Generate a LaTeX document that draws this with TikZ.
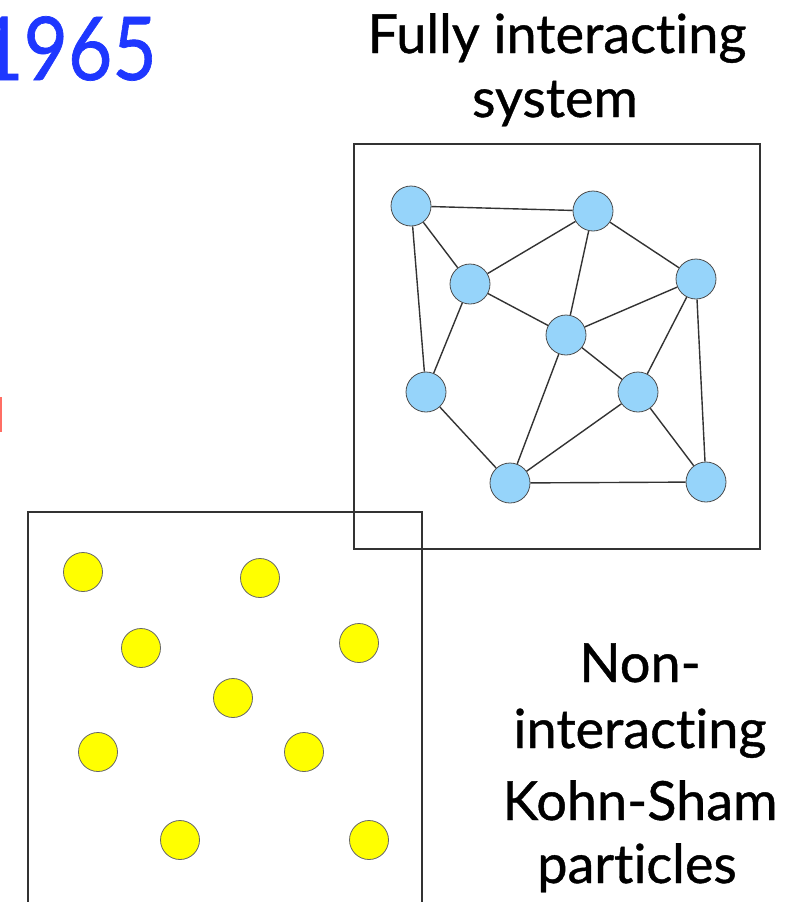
\documentclass[tikz,border=0pt]{standalone}
\usepackage{fontspec}
\setmainfont[FakeBold=0.8,Ligatures=NoCommon]{Lato}
\usetikzlibrary{backgrounds}
\begin{document}
\begin{tikzpicture}[x=1pt,y=-1pt,
  frame/.style={draw=black!80,line width=1.4pt},
  edge/.style={draw=black!80,line width=1.4pt},
  bluedot/.style={circle,draw=black!70,line width=0.8pt,fill={rgb,255:red,150;green,212;blue,250},minimum size=40pt,inner sep=0pt},
  yeldot/.style={circle,draw=black!60,line width=0.8pt,fill={rgb,255:red,255;green,255;blue,0},minimum size=39pt,inner sep=0pt},
  lbl/.style={align=center,inner sep=0pt,font=\fontsize{54}{70}\selectfont}
]
\useasboundingbox (0,0) rectangle (796,902);
% year
\node[anchor=base east,inner sep=0pt,xscale=0.87,text={rgb,255:red,30;green,55;blue,255},font=\fontsize{88}{88}\selectfont] (year) at (157,80) {1965};
% cut-off red mark at left edge
\draw[line width=3pt,color={rgb,255:red,255;green,110;blue,100}] (0.5,397) -- (0.5,432);
% top labels
\node[anchor=base,lbl] (t1) at (557,53) {Fully interacting};
\node[anchor=base,lbl] (t2) at (555,117) {system};
% bottom labels
\node[anchor=base,lbl] (b1) at (640,682) {Non-};
\node[anchor=base,lbl] (b2) at (640,748) {interacting};
\node[anchor=base,lbl] (b3) at (640,820) {Kohn-Sham};
\node[anchor=base,lbl] (b4) at (637,883) {particles};
% boxes
\draw[frame] (354,144) rectangle (760,549);
\draw[frame] (28,512) rectangle (422,920);
% interacting nodes
\node[bluedot] (A) at (411,206) {};
\node[bluedot] (B) at (593,211) {};
\node[bluedot] (C) at (470,284) {};
\node[bluedot] (D) at (696,279) {};
\node[bluedot] (E) at (566,335) {};
\node[bluedot] (F) at (426,392) {};
\node[bluedot] (G) at (638,392) {};
\node[bluedot] (H) at (510,483) {};
\node[bluedot] (I) at (706,482) {};
\begin{scope}[on background layer]
\foreach \a/\b in {A/B,A/C,A/F,C/B,C/E,C/F,B/E,B/D,E/D,E/H,E/G,D/G,D/I,F/H,G/H,G/I,H/I}
  \draw[edge] (\a) -- (\b);
\end{scope}
% non-interacting particles
\node[yeldot] (y1) at (83,572) {};
\node[yeldot] (y2) at (260,578) {};
\node[yeldot] (y3) at (141,648) {};
\node[yeldot] (y4) at (359,643) {};
\node[yeldot] (y5) at (233,698) {};
\node[yeldot] (y6) at (98,752) {};
\node[yeldot] (y7) at (304,752) {};
\node[yeldot] (y8) at (180,840) {};
\node[yeldot] (y9) at (369,840) {};
\end{tikzpicture}
\end{document}
